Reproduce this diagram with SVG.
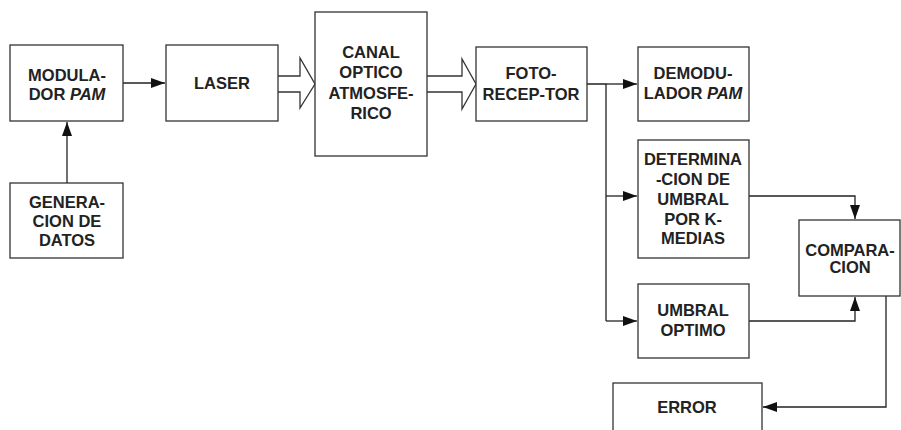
<svg xmlns="http://www.w3.org/2000/svg" width="901" height="430" viewBox="0 0 901 430">
<defs>
<style>
.box{fill:#fff;stroke:#333;stroke-width:1.3}
.t{font-family:"Liberation Sans",Arial,sans-serif;font-weight:bold;font-size:16.5px;fill:#222;text-anchor:middle}
.c{fill:none;stroke:#222;stroke-width:1.3}
.h{fill:#fff;stroke:#333;stroke-width:1.3}
</style>
<marker id="ah" viewBox="0 0 14 10" refX="14" refY="5" markerWidth="14" markerHeight="10" markerUnits="userSpaceOnUse" orient="auto">
<path d="M0,0 L14,5 L0,10 Z" fill="#111"/>
</marker>
</defs>
<rect width="901" height="430" fill="#fff"/>
<g id="connectors">
<path class="c" d="M123,83 H165" marker-end="url(#ah)"/>
<path class="c" d="M67,183 V122" marker-end="url(#ah)"/>
<path class="h" d="M278,76 H300 V58 L315,84 L300,108 V92 H278"/>
<path class="h" d="M427,76 H462 V59 L476,84 L462,109 V92 H427"/>
<path class="c" d="M587,84 H606 V321"/>
<path class="c" d="M606,84 H637" marker-end="url(#ah)"/>
<path class="c" d="M606,196 H637" marker-end="url(#ah)"/>
<path class="c" d="M606,321 H637" marker-end="url(#ah)"/>
<path class="c" d="M749,196 H855 V219" marker-end="url(#ah)"/>
<path class="c" d="M749,321 H855 V297" marker-end="url(#ah)"/>
<path class="c" d="M886,296 V407 H763" marker-end="url(#ah)"/>
</g>
<g id="modulador">
<rect class="box" x="10" y="45" width="113" height="76"/>
<text class="t" x="67" y="81">MODULA-</text>
<text class="t" x="67" y="100">DOR <tspan font-style="italic">PAM</tspan></text>
</g>
<g id="generacion">
<rect class="box" x="10" y="183" width="113" height="75"/>
<text class="t" x="67" y="208">GENERA-</text>
<text class="t" x="67" y="227">CION DE</text>
<text class="t" x="67" y="246">DATOS</text>
</g>
<g id="laser">
<rect class="box" x="166" y="45" width="112" height="76"/>
<text class="t" x="222" y="89">LASER</text>
</g>
<g id="canal">
<rect class="box" x="315" y="12" width="112" height="144"/>
<text class="t" x="371" y="58">CANAL</text>
<text class="t" x="371" y="78">OPTICO</text>
<text class="t" x="371" y="99">ATMOSFE-</text>
<text class="t" x="371" y="119">RICO</text>
</g>
<g id="fotoreceptor">
<rect class="box" x="476" y="47" width="111" height="74"/>
<text class="t" x="531" y="79">FOTO-</text>
<text class="t" x="531" y="100">RECEP-TOR</text>
</g>
<g id="demodulador">
<rect class="box" x="638" y="47" width="111" height="74"/>
<text class="t" x="693" y="79">DEMODU-</text>
<text class="t" x="693" y="99">LADOR <tspan font-style="italic">PAM</tspan></text>
</g>
<g id="determinacion">
<rect class="box" x="638" y="140" width="111" height="118"/>
<text class="t" x="693" y="165">DETERMINA</text>
<text class="t" x="693" y="185">-CION DE</text>
<text class="t" x="693" y="205">UMBRAL</text>
<text class="t" x="693" y="225">POR K-</text>
<text class="t" x="693" y="244">MEDIAS</text>
</g>
<g id="comparacion">
<rect class="box" x="799" y="220" width="101" height="76"/>
<text class="t" x="850" y="256">COMPARA-</text>
<text class="t" x="850" y="273">CION</text>
</g>
<g id="umbraloptimo">
<rect class="box" x="638" y="284" width="111" height="74"/>
<text class="t" x="693" y="316">UMBRAL</text>
<text class="t" x="693" y="336">OPTIMO</text>
</g>
<g id="error">
<rect class="box" x="613" y="383" width="149" height="60"/>
<text class="t" x="687" y="413">ERROR</text>
</g>
</svg>
